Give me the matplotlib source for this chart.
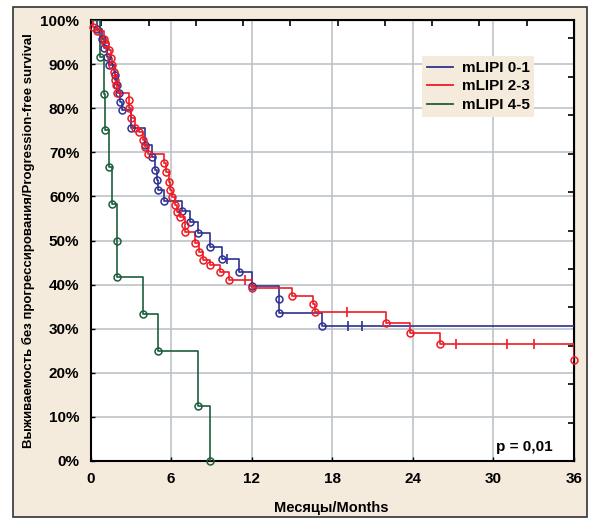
import numpy as np
import matplotlib.pyplot as plt
from matplotlib.patches import Rectangle

plt.rcParams['font.family'] = ['Liberation Sans', 'DejaVu Sans']
plt.rcParams['font.weight'] = 'bold'

# Kaplan-Meier curves: event times (months) and survival (%)
blue_t = [0.5, 0.85, 1.0, 1.2, 1.35, 1.85, 2.0, 2.1, 2.2, 2.35, 3.0, 4.05, 4.55, 4.8,
          4.95, 5.0, 5.45, 6.8, 7.4, 8.0, 8.9, 9.8, 11.05, 12.0, 14.0, 14.05, 17.2]
blue_s = [97.9, 95.8, 93.6, 91.7, 89.7, 87.5, 85.2, 83.4, 81.5, 79.6, 75.4, 71.7, 69.0, 66.0,
          63.7, 61.5, 59.0, 56.6, 54.1, 51.6, 48.6, 45.8, 42.8, 39.6, 36.7, 33.6, 30.7]
blue_cens_t = [10.2, 19.2, 20.2]
blue_cens_s = [45.8, 30.7, 30.7]

red_t = [0.2, 0.5, 1.0, 1.1, 1.35, 1.5, 1.6, 1.75, 1.8, 1.9, 2.0, 2.85, 2.9, 3.0, 3.35, 3.6,
         3.9, 4.05, 4.3, 5.45, 5.6, 5.85, 5.95, 6.1, 6.3, 6.45, 6.7, 7.0, 7.05, 7.8, 8.05,
         8.4, 8.9, 9.65, 10.3, 12.0, 15.0, 16.6, 16.7, 22.0, 23.8, 26.0, 36.0]
red_s = [98.5, 97.4, 95.8, 94.7, 93.2, 91.3, 89.8, 88.3, 86.4, 85.3, 83.4, 81.9, 80.0, 77.7,
         75.4, 74.7, 72.8, 71.3, 69.6, 67.5, 65.6, 63.3, 61.5, 59.8, 58.0, 56.5, 55.4, 53.5,
         52.0, 49.5, 47.5, 45.6, 44.4, 42.9, 41.0, 39.2, 37.4, 35.5, 33.7, 31.4, 29.0, 26.5, 22.9]
red_cens_t = [11.5, 19.1, 27.2, 31.0, 33.0]
red_cens_s = [41.0, 33.7, 26.5, 26.5, 26.5]

green_t = [0.7, 1.0, 1.05, 1.4, 1.6, 1.95, 2.0, 3.9, 5.0, 8.0, 8.9]
green_s = [91.7, 83.3, 75.0, 66.7, 58.3, 50.0, 41.7, 33.3, 25.0, 12.5, 0.0]

labels = ['mLIPI 0-1', 'mLIPI 2-3', 'mLIPI 4-5']
colors = ['#2e3192', '#ed1c24', '#1d5e3c']
x_end = 36

bg = '#f5ebdd'
fig = plt.figure(figsize=(5.92, 5.18), dpi=100, facecolor='white')
fig.patches.append(Rectangle((13 / 592, 1 / 518), 574 / 592, 510 / 518,
                             transform=fig.transFigure, facecolor=bg,
                             edgecolor='#333333', linewidth=1.2, zorder=-1))

ax = fig.add_axes([90.5 / 592, 1 - 461 / 518, 483.5 / 592, 441 / 518])
ax.set_facecolor('white')

curves = [(blue_t, blue_s, blue_cens_t, blue_cens_s),
          (red_t, red_s, red_cens_t, red_cens_s),
          (green_t, green_s, [], [])]

for (t, s, ct, cs), lab, c in zip(curves, labels, colors):
    tt = [0] + list(t)
    ss = [100] + list(s)
    if tt[-1] < x_end and ss[-1] > 0:
        tt.append(x_end)
        ss.append(ss[-1])
    ax.step(tt, ss, where='post', color=c, lw=1.2, label=lab, zorder=3)
    ax.plot(t, s, 'o', ms=5, mfc='none', mec=c, mew=1.1, zorder=4, clip_on=False)
    if ct:
        ax.plot(ct, cs, '|', ms=7, mec=c, mew=1.2, zorder=4)

ax.set_xlim(0, 36)
ax.set_ylim(0, 100)
ax.set_xticks(np.arange(0, 37, 6))
ax.set_yticks(np.arange(0, 101, 10))
ax.set_yticklabels([f'{v}%' for v in range(0, 101, 10)])
ax.grid(True, color='#bcc3c7', lw=1.2)
ax.set_axisbelow(True)
ax.tick_params(direction='in', length=3, width=1, labelsize=11, pad=8, colors='black')
for sp in ax.spines.values():
    sp.set_linewidth(1.5)

# extra unlabelled ticks on the top and right sides
top = ax.secondary_xaxis('top')
top.set_xticks(36 - 3.52 * np.arange(1, 11))
top.set_xticklabels([])
top.tick_params(direction='in', length=4, width=1.2)
right = ax.secondary_yaxis('right')
right.set_yticks(8.71 * np.arange(1, 12))
right.set_yticklabels([])
right.tick_params(direction='in', length=4, width=1.2)

fig.text(331 / 592, 1 - 508 / 518, 'Месяцы/Months', ha='center', va='center',
         fontsize=10.5, fontweight='bold')
ax.set_ylabel('Выживаемость без прогрессирования/Progression-free survival',
              fontsize=9.5, fontweight='bold')
ax.yaxis.set_label_coords(-0.115, 0.5)

ax.text(0.955, 0.032, 'p = 0,01', transform=ax.transAxes, ha='right', va='center',
        fontsize=11, fontweight='bold')

leg = ax.legend(loc='upper left', bbox_to_anchor=(0.67, 0.935), fontsize=11,
                frameon=True, facecolor=bg, edgecolor='none', framealpha=1,
                handlelength=1.7, handletextpad=0.6, labelspacing=0.3,
                borderpad=0.3, fancybox=False)
for line in leg.get_lines():
    line.set_linewidth(1.3)

fig.savefig('out.png', dpi=100, facecolor=fig.get_facecolor())
